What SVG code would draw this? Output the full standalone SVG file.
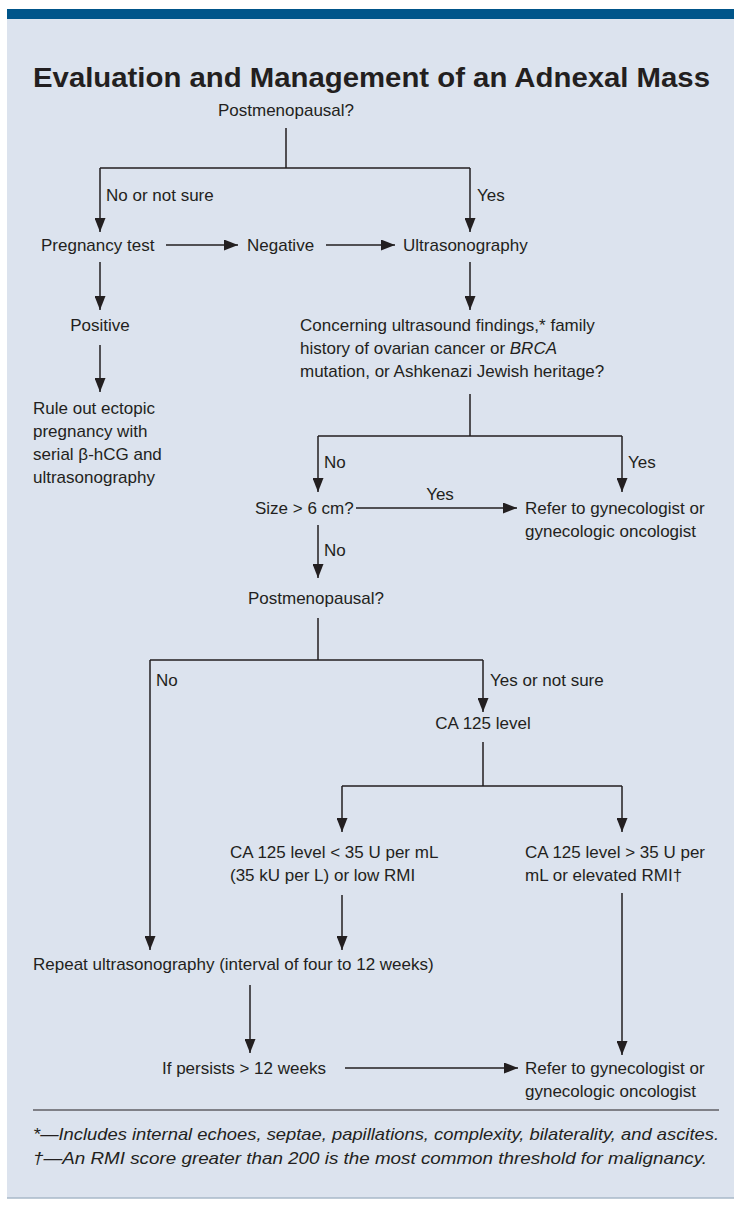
<svg xmlns="http://www.w3.org/2000/svg" width="734" height="1210" viewBox="0 0 734 1210">
<style>
.t{font-family:"Liberation Sans",Arial,sans-serif;font-size:17px;fill:#231f20}
.c{text-anchor:middle}
.ti{font-family:"Liberation Sans",Arial,sans-serif;font-size:28px;font-weight:bold;fill:#231f20}
.fn{font-family:"Liberation Sans",Arial,sans-serif;font-size:17px;font-style:italic;fill:#231f20}
.ln{fill:none;stroke:#231f20;stroke-width:1.5}
</style>
<defs>
<marker id="ah" markerUnits="userSpaceOnUse" markerWidth="14" markerHeight="11" refX="14" refY="5.5" orient="auto">
<path d="M0,0 L14,5.5 L0,11 z" fill="#231f20"/>
</marker>
</defs>
<rect x="7" y="9" width="727" height="1189" fill="#dce3ee"/>
<rect x="7" y="9" width="727" height="10" fill="#00558a"/>
<line x1="7" y1="1198" x2="734" y2="1198" stroke="#a9b8c8" stroke-width="1.5"/>
<text class="ti" x="33" y="87" textLength="677" lengthAdjust="spacingAndGlyphs">Evaluation and Management of an Adnexal Mass</text>

<g id="connectors" class="ln">
<path d="M286,128 V168 M100,168 H470"/>
<path d="M100,168 V232" marker-end="url(#ah)"/>
<path d="M470,168 V232" marker-end="url(#ah)"/>
<path d="M166,245 H238" marker-end="url(#ah)"/>
<path d="M326,245 H395" marker-end="url(#ah)"/>
<path d="M100,262 V310" marker-end="url(#ah)"/>
<path d="M100,345 V392" marker-end="url(#ah)"/>
<path d="M470,262 V310" marker-end="url(#ah)"/>
<path d="M470,394 V436 M318,436 H622"/>
<path d="M318,436 V492" marker-end="url(#ah)"/>
<path d="M622,436 V492" marker-end="url(#ah)"/>
<path d="M356,508 H517" marker-end="url(#ah)"/>
<path d="M318,525 V578" marker-end="url(#ah)"/>
<path d="M318,618 V660 M150,660 H483"/>
<path d="M150,660 V950" marker-end="url(#ah)"/>
<path d="M483,660 V712" marker-end="url(#ah)"/>
<path d="M483,742 V786 M342,786 H622"/>
<path d="M342,786 V832" marker-end="url(#ah)"/>
<path d="M622,786 V832" marker-end="url(#ah)"/>
<path d="M342,895 V950" marker-end="url(#ah)"/>
<path d="M622,893 V1055" marker-end="url(#ah)"/>
<path d="M250,985 V1053" marker-end="url(#ah)"/>
<path d="M345,1068 H518" marker-end="url(#ah)"/>
</g>
<g id="labels">
<text class="t" x="106" y="201">No or not sure</text>
<text class="t" x="477" y="201">Yes</text>
<text class="t" x="324" y="468">No</text>
<text class="t" x="628" y="468">Yes</text>
<text class="t c" x="440" y="500">Yes</text>
<text class="t" x="324" y="556">No</text>
<text class="t" x="156" y="686">No</text>
<text class="t" x="490" y="686">Yes or not sure</text>
</g>
<g id="n-post1"><text class="t c" x="286" y="116">Postmenopausal?</text></g>
<g id="n-preg"><text class="t" x="41" y="251">Pregnancy test</text></g>
<g id="n-neg"><text class="t" x="247" y="251">Negative</text></g>
<g id="n-us"><text class="t" x="403" y="251">Ultrasonography</text></g>
<g id="n-pos"><text class="t c" x="100" y="331">Positive</text></g>
<g id="n-ectopic"><text class="t" x="33" y="414">Rule out ectopic</text><text class="t" x="33" y="437">pregnancy with</text><text class="t" x="33" y="460">serial β-hCG and</text><text class="t" x="33" y="483">ultrasonography</text></g>
<g id="n-concern"><text class="t" x="300" y="331">Concerning ultrasound findings,* family</text><text class="t" x="300" y="354">history of ovarian cancer or <tspan font-style="italic">BRCA</tspan></text><text class="t" x="300" y="377">mutation, or Ashkenazi Jewish heritage?</text></g>
<g id="n-size"><text class="t" x="255" y="514">Size &gt; 6 cm?</text></g>
<g id="n-refer1"><text class="t" x="525" y="514">Refer to gynecologist or</text><text class="t" x="525" y="537">gynecologic oncologist</text></g>
<g id="n-post2"><text class="t c" x="316" y="604">Postmenopausal?</text></g>
<g id="n-ca125"><text class="t c" x="483" y="729">CA 125 level</text></g>
<g id="n-calow"><text class="t" x="230" y="858">CA 125 level &lt; 35 U per mL</text><text class="t" x="230" y="881">(35 kU per L) or low RMI</text></g>
<g id="n-cahigh"><text class="t" x="525" y="858">CA 125 level &gt; 35 U per</text><text class="t" x="525" y="881">mL or elevated RMI†</text></g>
<g id="n-repeat"><text class="t" x="33" y="970">Repeat ultrasonography (interval of four to 12 weeks)</text></g>
<g id="n-persist"><text class="t" x="162" y="1074">If persists &gt; 12 weeks</text></g>
<g id="n-refer2"><text class="t" x="525" y="1074">Refer to gynecologist or</text><text class="t" x="525" y="1097">gynecologic oncologist</text></g>
<line x1="33" y1="1110" x2="719" y2="1110" stroke="#231f20" stroke-width="1.2"/>
<g id="footnotes">
<text class="fn" x="33" y="1140" textLength="686" lengthAdjust="spacingAndGlyphs">*—Includes internal echoes, septae, papillations, complexity, bilaterality, and ascites.</text>
<text class="fn" x="33" y="1164" textLength="674" lengthAdjust="spacingAndGlyphs">†—An RMI score greater than 200 is the most common threshold for malignancy.</text>
</g>
</svg>
